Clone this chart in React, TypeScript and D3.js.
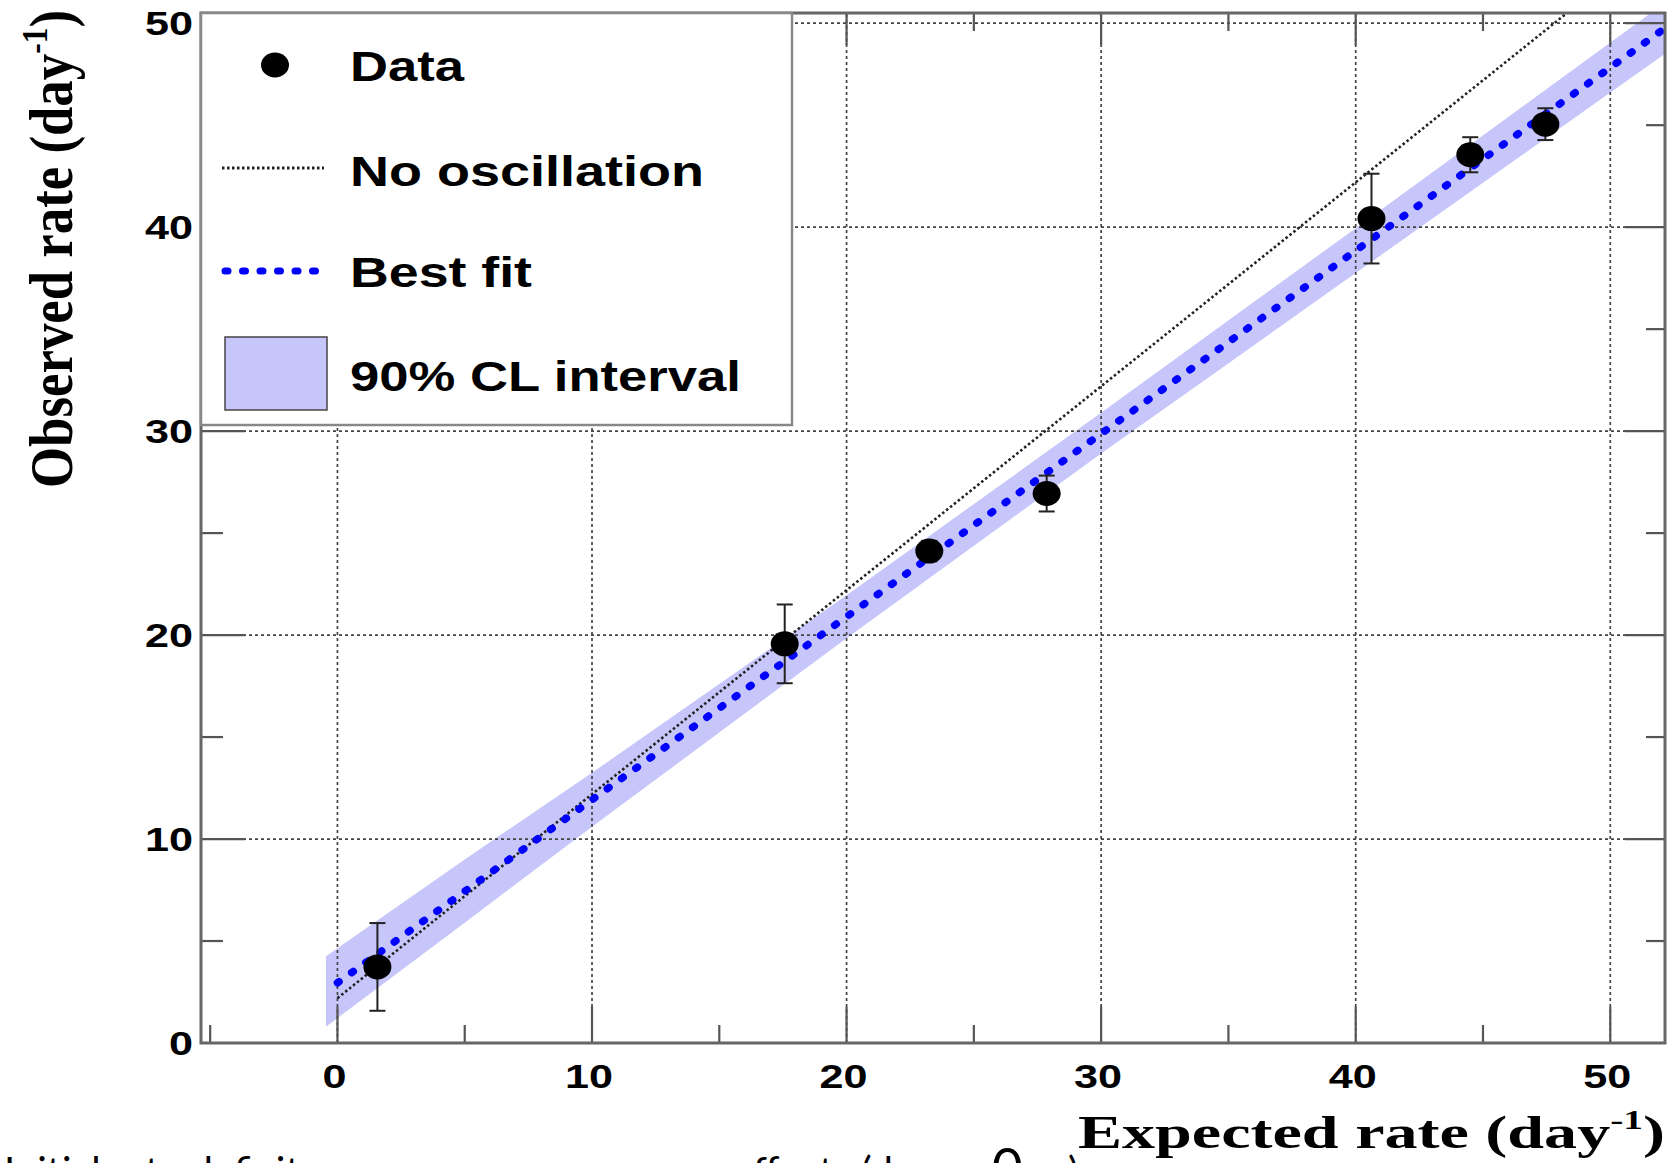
import React, { useRef, useEffect } from "react";
import * as d3 from "d3";

// values
const expectedRate = [1.57, 17.57, 23.25, 27.86, 40.62, 44.5, 47.45];
const observedRate = [3.73, 19.57, 24.12, 26.94, 40.42, 43.55, 45.05];
const rateError = [2.15, 1.93, 0.5, 0.88, 2.2, 0.86, 0.78];

// best fit and no-oscillation lines (end points)
const fitLine: [number, number][] = [[0, 2.95], [52.2, 49.8]];
const noOscLine: [number, number][] = [[0, 2.2], [48.3, 50.5]];

// 90% CL band edges
const bandX = [-0.45, 5, 10, 20, 30, 40, 52.2];
const bandLow = [0.8, 5.9, 10.6, 19.85, 28.9, 37.75, 48.55];
const bandHigh = [4.25, 9.0, 13.25, 21.95, 30.9, 39.95, 51.05];

const xMajorTicks = [0, 10, 20, 30, 40, 50];
const xMinorTicks = [-5, 5, 15, 25, 35, 45];
const yMajorTicks = [0, 10, 20, 30, 40, 50];
const yMinorTicks = [5, 15, 25, 35, 45];

const legendLabels = ["Data", "No oscillation", "Best fit", "90% CL interval"];

const W = 1672;
const H = 1163;
const box = { left: 201, right: 1665, top: 13, bottom: 1043 };
const SANS = "'Liberation Sans', Arial, Helvetica, sans-serif";
const SERIF = "'Liberation Serif', 'Times New Roman', serif";

export default function App() {
  const ref = useRef<SVGSVGElement>(null);

  useEffect(() => {
    if (!ref.current) return;
    const svg = d3.select(ref.current);
    svg.selectAll("*").remove();

    const x = d3.scaleLinear().domain([-5.36, 52.15]).range([box.left, box.right]);
    const y = d3.scaleLinear().domain([0, 50.5]).range([box.bottom, box.top]);

    svg.append("rect").attr("width", W).attr("height", H).attr("fill", "#fff");

    svg
      .append("clipPath")
      .attr("id", "plotclip")
      .append("rect")
      .attr("x", box.left)
      .attr("y", box.top)
      .attr("width", box.right - box.left)
      .attr("height", box.bottom - box.top);

    const plot = svg.append("g").attr("clip-path", "url(#plotclip)");

    // CL band
    const band = d3
      .area<number>()
      .x((d) => x(d))
      .y0((_d, i) => y(bandLow[i]))
      .y1((_d, i) => y(bandHigh[i]));
    plot.append("path").attr("d", band(bandX)).attr("fill", "#c6c6fa");

    // grid
    plot
      .selectAll("line.gx")
      .data(xMajorTicks)
      .enter()
      .append("line")
      .attr("x1", (d) => x(d))
      .attr("x2", (d) => x(d))
      .attr("y1", box.bottom)
      .attr("y2", box.top)
      .attr("stroke", "#444")
      .attr("stroke-width", 1.7)
      .attr("stroke-dasharray", "3 3");
    plot
      .selectAll("line.gy")
      .data(yMajorTicks.filter((d) => d > 0))
      .enter()
      .append("line")
      .attr("x1", box.left)
      .attr("x2", box.right)
      .attr("y1", (d) => y(d))
      .attr("y2", (d) => y(d))
      .attr("stroke", "#444")
      .attr("stroke-width", 1.7)
      .attr("stroke-dasharray", "3 3");

    const line = d3
      .line<[number, number]>()
      .x((d) => x(d[0]))
      .y((d) => y(d[1]));

    plot
      .append("path")
      .attr("d", line(noOscLine))
      .attr("fill", "none")
      .attr("stroke", "#222")
      .attr("stroke-width", 2.6)
      .attr("stroke-dasharray", "2.5 2.5");

    plot
      .append("path")
      .attr("d", line(fitLine))
      .attr("fill", "none")
      .attr("stroke", "#0000ff")
      .attr("stroke-width", 7.5)
      .attr("stroke-linecap", "round")
      .attr("stroke-dasharray", "2 15.5");

    // data with error bars
    const pts = plot
      .selectAll("g.pt")
      .data(expectedRate.map((e, i) => ({ e, o: observedRate[i], err: rateError[i] })))
      .enter()
      .append("g");
    pts
      .append("line")
      .attr("x1", (d) => x(d.e))
      .attr("x2", (d) => x(d.e))
      .attr("y1", (d) => y(d.o - d.err))
      .attr("y2", (d) => y(d.o + d.err))
      .attr("stroke", "#222")
      .attr("stroke-width", 2);
    [-1, 1].forEach((s) => {
      pts
        .append("line")
        .attr("x1", (d) => x(d.e) - 8)
        .attr("x2", (d) => x(d.e) + 8)
        .attr("y1", (d) => y(d.o + s * d.err))
        .attr("y2", (d) => y(d.o + s * d.err))
        .attr("stroke", "#222")
        .attr("stroke-width", 2);
    });
    pts
      .append("ellipse")
      .attr("cx", (d) => x(d.e))
      .attr("cy", (d) => y(d.o))
      .attr("rx", 14)
      .attr("ry", 12.5)
      .attr("fill", "#000");

    // ticks on all four sides
    const tickG = svg.append("g").attr("stroke", "#555").attr("stroke-width", 2.2);
    const vTicks = (vals: number[], y0: number, len: number) =>
      tickG
        .selectAll(null)
        .data(vals)
        .enter()
        .append("line")
        .attr("x1", (d) => x(d))
        .attr("x2", (d) => x(d))
        .attr("y1", y0)
        .attr("y2", y0 + len);
    const hTicks = (vals: number[], x0: number, len: number) =>
      tickG
        .selectAll(null)
        .data(vals)
        .enter()
        .append("line")
        .attr("y1", (d) => y(d))
        .attr("y2", (d) => y(d))
        .attr("x1", x0)
        .attr("x2", x0 + len);
    vTicks(xMajorTicks, box.bottom, -36);
    vTicks(xMinorTicks, box.bottom, -18);
    vTicks(xMajorTicks, box.top, 32);
    vTicks(xMinorTicks, box.top, 18);
    hTicks(yMajorTicks, box.left, 44);
    hTicks(yMinorTicks, box.left, 22);
    hTicks(yMajorTicks, box.right, -40);
    hTicks(yMinorTicks, box.right, -19);

    // frame
    svg
      .append("rect")
      .attr("x", box.left)
      .attr("y", box.top)
      .attr("width", box.right - box.left)
      .attr("height", box.bottom - box.top)
      .attr("fill", "none")
      .attr("stroke", "#666")
      .attr("stroke-width", 3);

    // tick labels
    const digitW = 24;
    svg
      .selectAll("text.xl")
      .data(xMajorTicks)
      .enter()
      .append("text")
      .attr("x", (d) => x(d) - 3)
      .attr("y", 1088)
      .attr("text-anchor", "middle")
      .attr("font-family", SANS)
      .attr("font-weight", "bold")
      .attr("font-size", 34)
      .attr("textLength", (d) => String(d).length * digitW)
      .attr("lengthAdjust", "spacingAndGlyphs")
      .text((d) => d);
    svg
      .selectAll("text.yl")
      .data(yMajorTicks)
      .enter()
      .append("text")
      .attr("x", 193)
      .attr("y", (d) => y(d) + 12)
      .attr("text-anchor", "end")
      .attr("font-family", SANS)
      .attr("font-weight", "bold")
      .attr("font-size", 34)
      .attr("textLength", (d) => String(d).length * digitW)
      .attr("lengthAdjust", "spacingAndGlyphs")
      .text((d) => d);

    // axis titles
    const xt = svg
      .append("text")
      .attr("x", 1665)
      .attr("y", 1148)
      .attr("text-anchor", "end")
      .attr("font-family", SERIF)
      .attr("font-weight", "bold")
      .attr("font-size", 47)
      .attr("textLength", 587)
      .attr("lengthAdjust", "spacingAndGlyphs");
    xt.append("tspan").text("Expected rate (day");
    xt.append("tspan").attr("font-size", 28).attr("dy", -19).text("-1");
    xt.append("tspan").attr("dy", 19).text(")");

    const yt = svg
      .append("text")
      .attr("transform", "translate(72,488) scale(1.3,1) rotate(-90)")
      .attr("font-family", SERIF)
      .attr("font-weight", "bold")
      .attr("font-size", 47)
      .attr("textLength", 478)
      .attr("lengthAdjust", "spacingAndGlyphs");
    yt.append("tspan").text("Observed rate (day");
    yt.append("tspan").attr("font-size", 28).attr("dy", -19).text("-1");
    yt.append("tspan").attr("dy", 19).text(")");

    // legend
    const lg = svg.append("g");
    lg.append("rect")
      .attr("x", box.left)
      .attr("y", box.top)
      .attr("width", 591)
      .attr("height", 412)
      .attr("fill", "#fff")
      .attr("stroke", "#888")
      .attr("stroke-width", 2.5);
    lg.append("ellipse").attr("cx", 275).attr("cy", 65).attr("rx", 14).attr("ry", 12.5).attr("fill", "#000");
    lg.append("line")
      .attr("x1", 222).attr("x2", 324).attr("y1", 168).attr("y2", 168)
      .attr("stroke", "#222").attr("stroke-width", 3.2).attr("stroke-dasharray", "2.5 2.5");
    lg.append("line")
      .attr("x1", 225).attr("x2", 328).attr("y1", 271).attr("y2", 271)
      .attr("stroke", "#0000ff").attr("stroke-width", 7).attr("stroke-linecap", "round")
      .attr("stroke-dasharray", "3 14.5");
    lg.append("rect")
      .attr("x", 225).attr("y", 337).attr("width", 102).attr("height", 73)
      .attr("fill", "#c6c6fa").attr("stroke", "#444").attr("stroke-width", 1.5);
    const legendY = [81, 186, 287, 391];
    const legendW = [114, 354, 182, 391];
    lg.selectAll("text")
      .data(legendLabels)
      .enter()
      .append("text")
      .attr("x", 350)
      .attr("y", (_d, i) => legendY[i])
      .attr("font-family", SANS)
      .attr("font-weight", "bold")
      .attr("font-size", 42)
      .attr("textLength", (_d, i) => legendW[i])
      .attr("lengthAdjust", "spacingAndGlyphs")
      .text((d) => d);

    // cropped slide text at the very bottom (only its top shows)
    const bt = svg.append("g").attr("font-family", "Lato, 'Open Sans', sans-serif").attr("fill", "#000");
    bt.append("text").attr("x", 4).attr("y", 1186).attr("font-size", 40).text("Initial rate deficit");
    bt.append("text").attr("x", 732).attr("y", 1186).attr("font-size", 40).text("effects (day");
    bt.append("text").attr("x", 990).attr("y", 1190).attr("font-size", 58).text("θ");
    bt.append("text").attr("x", 1068).attr("y", 1186).attr("font-size", 40).text(")");

    return () => {
      svg.selectAll("*").remove();
    };
  }, []);

  return (
    <svg
      ref={ref}
      width={W}
      height={H}
      style={{ position: "absolute", left: 0, top: 0, display: "block" }}
    />
  );
}
